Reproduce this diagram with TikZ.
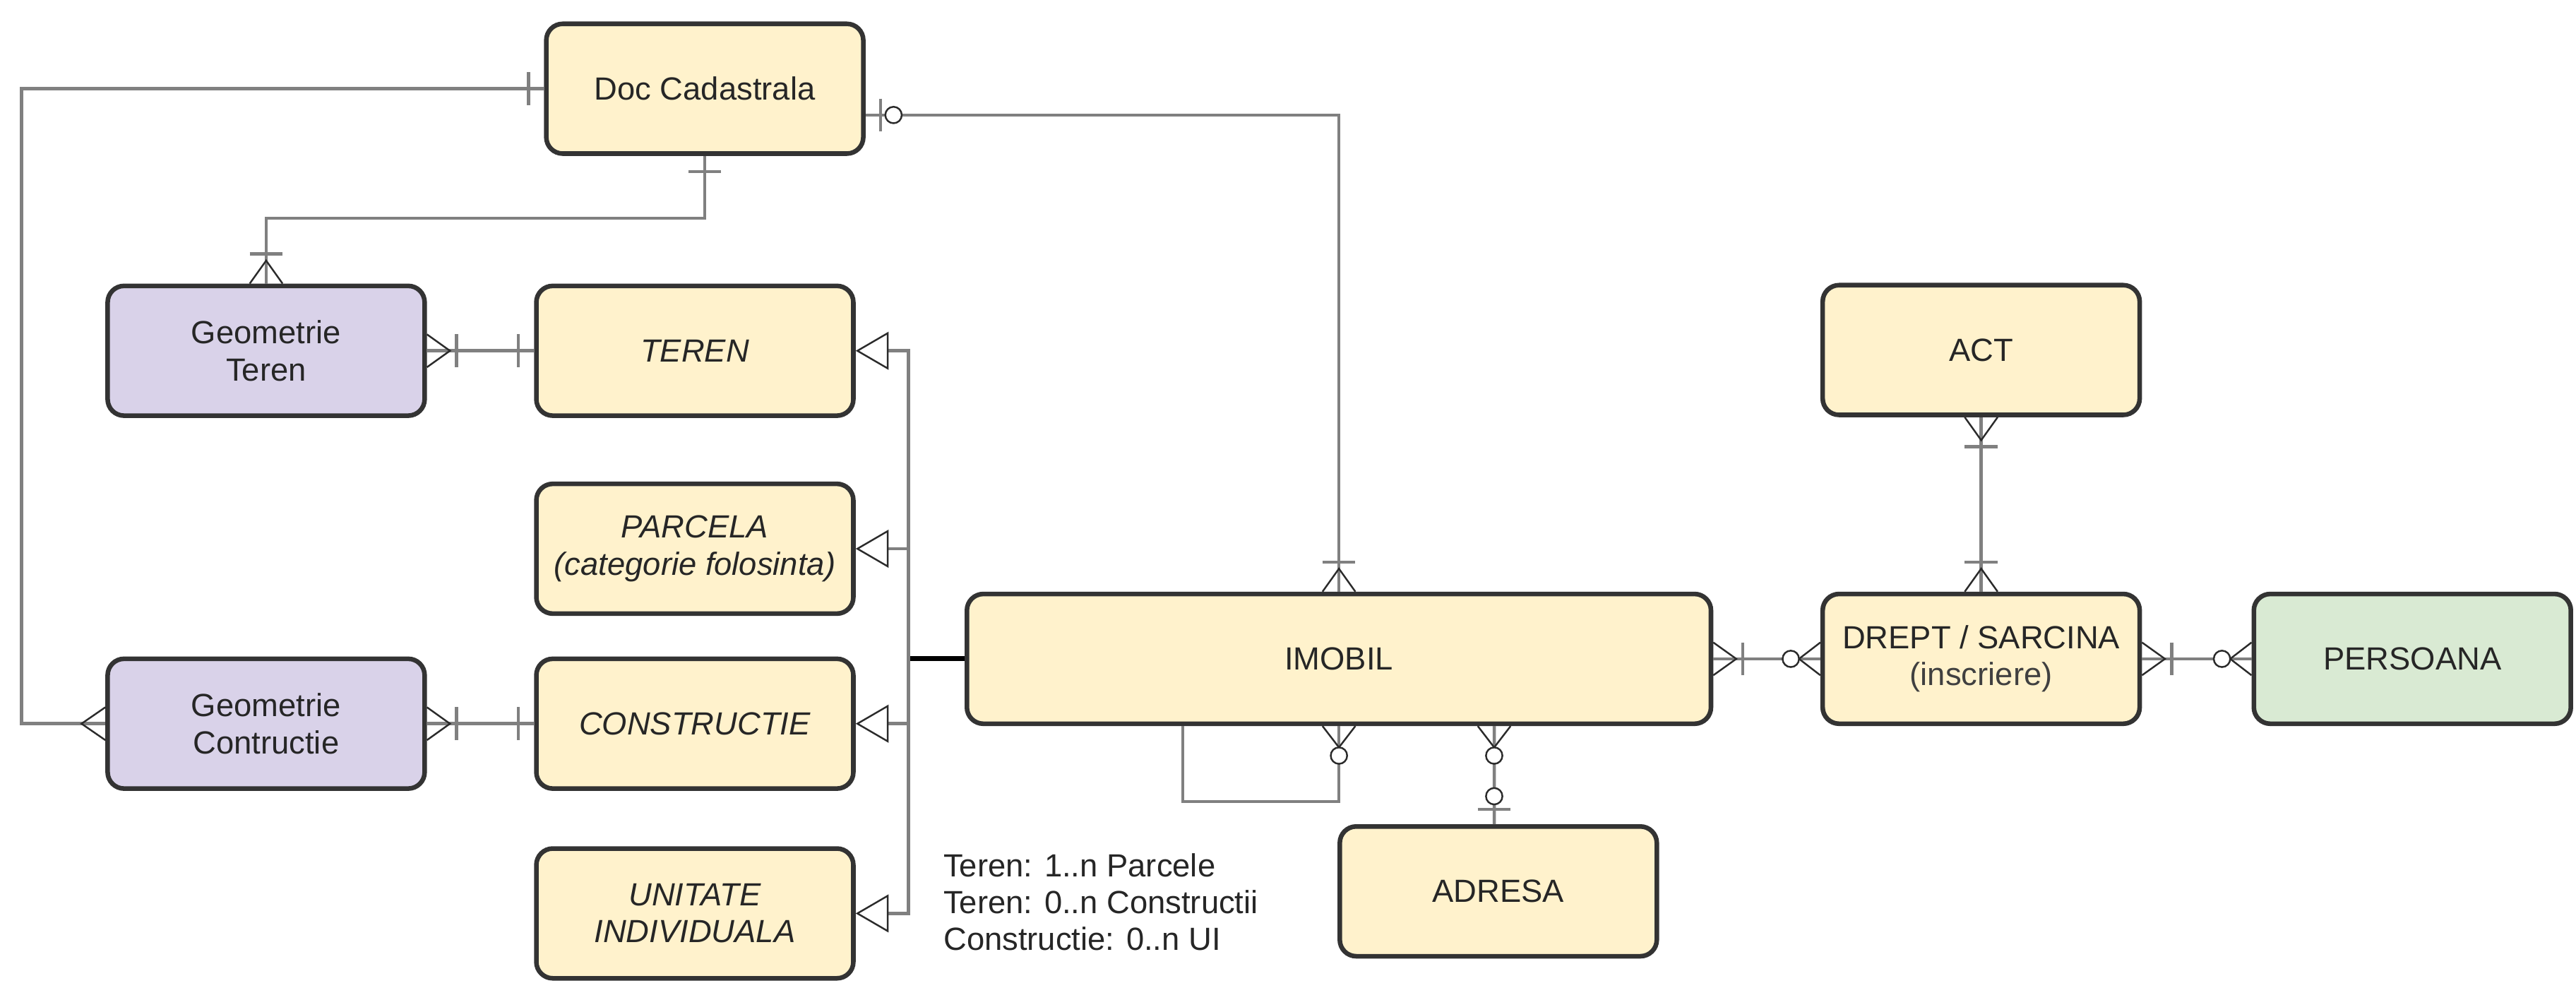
\documentclass[tikz,border=0pt]{standalone}
\usepackage{fontspec}
\setmainfont{Liberation Sans}
\usepackage{xcolor}
\usetikzlibrary{arrows.meta,calc}

\definecolor{boxline}{HTML}{333333}
\definecolor{tipline}{HTML}{2B2B2B}
\definecolor{relgray}{HTML}{808080}
\definecolor{yellowfill}{HTML}{FFF2CC}
\definecolor{purplefill}{HTML}{D9D2E9}
\definecolor{greenfill}{HTML}{D9EAD3}

\newcommand{\erfont}{\fontsize{11.1pt}{12.8pt}\selectfont}

\pgfdeclarearrow{
  name = justone,
  setup code = {
    \pgfarrowssettipend{0pt}
    \pgfarrowssetlineend{0pt}
    \pgfarrowssetbackend{-0.2cm}
    \pgfarrowshullpoint{0pt}{0.2cm}
    \pgfarrowshullpoint{0pt}{-0.2cm}
    \pgfarrowshullpoint{-0.2cm}{0.2cm}
    \pgfarrowshullpoint{-0.2cm}{-0.2cm}
  },
  drawing code = {
    \pgfpathmoveto{\pgfpoint{-0.19cm}{-0.2cm}}
    \pgfpathlineto{\pgfpoint{-0.19cm}{0.2cm}}
    \pgfusepathqstroke
  }
}
\pgfdeclarearrow{
  name = justmany,
  setup code = {
    \pgfarrowssettipend{0pt}
    \pgfarrowssetlineend{0pt}
    \pgfarrowssetbackend{-0.29cm}
    \pgfarrowshullpoint{0pt}{0.2cm}
    \pgfarrowshullpoint{0pt}{-0.2cm}
    \pgfarrowshullpoint{-0.29cm}{0pt}
  },
  drawing code = {
    \pgfsetlinewidth{0.6pt}
    \pgfsetstrokecolor{tipline}
    \pgfpathmoveto{\pgfpoint{0pt}{0.2cm}}
    \pgfpathlineto{\pgfpoint{-0.29cm}{0pt}}
    \pgfpathlineto{\pgfpoint{0pt}{-0.2cm}}
    \pgfusepathqstroke
  }
}
\pgfdeclarearrow{
  name = onemany,
  setup code = {
    \pgfarrowssettipend{0pt}
    \pgfarrowssetlineend{0pt}
    \pgfarrowssetbackend{-0.37cm}
    \pgfarrowshullpoint{0pt}{0.2cm}
    \pgfarrowshullpoint{0pt}{-0.2cm}
    \pgfarrowshullpoint{-0.37cm}{0.2cm}
    \pgfarrowshullpoint{-0.37cm}{-0.2cm}
  },
  drawing code = {
    \pgfpathmoveto{\pgfpoint{-0.36cm}{-0.2cm}}
    \pgfpathlineto{\pgfpoint{-0.36cm}{0.2cm}}
    \pgfusepathqstroke
    \pgfsetlinewidth{0.6pt}
    \pgfsetstrokecolor{tipline}
    \pgfpathmoveto{\pgfpoint{0pt}{0.2cm}}
    \pgfpathlineto{\pgfpoint{-0.28cm}{0pt}}
    \pgfpathlineto{\pgfpoint{0pt}{-0.2cm}}
    \pgfusepathqstroke
  }
}
\pgfdeclarearrow{
  name = zeromany,
  setup code = {
    \pgfarrowssettipend{0pt}
    \pgfarrowssetlineend{0pt}
    \pgfarrowssetbackend{-0.46cm}
    \pgfarrowshullpoint{0pt}{0.2cm}
    \pgfarrowshullpoint{0pt}{-0.2cm}
    \pgfarrowshullpoint{-0.46cm}{0.1cm}
    \pgfarrowshullpoint{-0.46cm}{-0.1cm}
  },
  drawing code = {
    \pgfsetlinewidth{0.6pt}
    \pgfsetstrokecolor{tipline}
    \pgfpathmoveto{\pgfpoint{0pt}{0.2cm}}
    \pgfpathlineto{\pgfpoint{-0.26cm}{0pt}}
    \pgfpathlineto{\pgfpoint{0pt}{-0.2cm}}
    \pgfusepathqstroke
    \pgfsetfillcolor{white}
    \pgfpathcircle{\pgfpoint{-0.36cm}{0pt}}{0.1cm}
    \pgfusepathqfillstroke
  }
}
\pgfdeclarearrow{
  name = zeroone,
  setup code = {
    \pgfarrowssettipend{0pt}
    \pgfarrowssetlineend{0pt}
    \pgfarrowssetbackend{-0.44cm}
    \pgfarrowshullpoint{0pt}{0.2cm}
    \pgfarrowshullpoint{0pt}{-0.2cm}
    \pgfarrowshullpoint{-0.44cm}{0.1cm}
    \pgfarrowshullpoint{-0.44cm}{-0.1cm}
  },
  drawing code = {
    \pgfpathmoveto{\pgfpoint{-0.18cm}{-0.2cm}}
    \pgfpathlineto{\pgfpoint{-0.18cm}{0.2cm}}
    \pgfusepathqstroke
    \pgfsetlinewidth{0.6pt}
    \pgfsetstrokecolor{tipline}
    \pgfsetfillcolor{white}
    \pgfpathcircle{\pgfpoint{-0.34cm}{0pt}}{0.1cm}
    \pgfusepathqfillstroke
  }
}

\begin{document}
\begin{tikzpicture}[x=0.02cm,y=-0.02cm,
    entity/.style={draw=boxline,line width=1.6pt,rounded corners=0.2cm,fill=yellowfill,minimum width=3.86cm,minimum height=1.58cm,align=center,font=\erfont,text=black!85},
    subtype/.style={entity,font=\erfont\itshape},
    geom/.style={entity,fill=purplefill},
    person/.style={entity,fill=greenfill},
    note/.style={anchor=north west,inner sep=0pt,align=left,font=\erfont,text=black!85},
    rel/.style={draw=relgray,line width=1.1pt},
    isa/.style={draw=black,line width=1.7pt},
    gen/.style={-{Triangle[length=0.4cm,width=0.46cm,fill=white,color=tipline,line width=0.6pt]}}]
    \useasboundingbox (0,0) rectangle (1568,601.3);

    \node[entity] (doc) at (429,54) {Doc Cadastrala};
    \node[geom] (geoteren) at (162,213.5) {Geometrie\\Teren};
    \node[subtype] (teren) [right of=geoteren, node distance=5.22cm] {TEREN};
    \node[subtype] (parcela) [below of=teren, node distance=2.41cm] {PARCELA\\(categorie folosinta)};
    \node[subtype] (constr) [below of=parcela, node distance=2.13cm] {CONSTRUCTIE};
    \node[subtype] (unitate) [below of=constr, node distance=2.31cm] {UNITATE\\INDIVIDUALA};
    \node[geom] (geoconstr) [left of=constr, node distance=5.22cm] {Geometrie\\Contructie};
    \node[entity, minimum width=9.06cm] (imobil) at (815,401) {IMOBIL};
    \node[entity] (drept) [right of=imobil, node distance=7.82cm] {DREPT / SARCINA\\{\color{black!75}(inscriere)}};
    \node[person] (persoana) [right of=drept, node distance=5.25cm] {PERSOANA};
    \node[entity] (act) [above of=drept, node distance=3.76cm] {ACT};
    \node[entity] (adresa) at (912,542.5) {ADRESA};
    \node[note] (notes) at (574,519) {Teren: 1..n Parcele\\Teren: 0..n Constructii\\Constructie: 0..n UI};

    \coordinate (hub) at (553,401);
    \draw[isa] (imobil.west) -- (hub);
    \draw[rel,gen] (hub) |- (teren.east);
    \draw[rel,gen] (hub) |- (parcela.east);
    \draw[rel,gen] (hub) |- (constr.east);
    \draw[rel,gen] (hub) |- (unitate.east);

    \draw[rel,{justone}-{justmany}] (doc.west) -- ++(-318,0) |- (geoconstr.west);
    \draw[rel,{zeroone}-{onemany}] ($(doc.east)+(0,16)$) -| (imobil.north);
    \draw[rel,{justone}-{onemany}] (doc.south) -- ++(0,38) -| (geoteren.north);
    \draw[rel,-{zeromany}] ($(imobil.south)+(-95,0)$) -- ++(0,46) -| (imobil.south);
    \draw[rel,{zeromany}-{zeroone}] ($(imobil.south)+(94.5,0)$) -- ($(adresa.north)+(-2.5,0)$);

    \path[rel]
        (geoteren) edge[{onemany}-{justone}] (teren)
        (geoconstr) edge[{onemany}-{justone}] (constr)
        (imobil) edge[{onemany}-{zeromany}] (drept)
        (act) edge[{onemany}-{onemany}] (drept)
        (drept) edge[{onemany}-{zeromany}] (persoana)
    ;
\end{tikzpicture}
\end{document}
